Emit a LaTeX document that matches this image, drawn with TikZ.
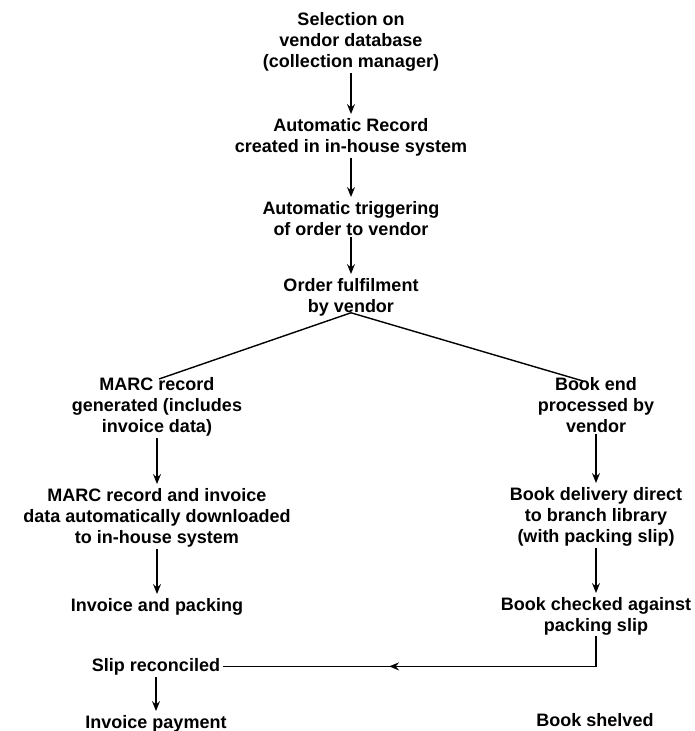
\documentclass[tikz,border=0pt]{standalone}
\usepackage{fontspec}
\setmainfont{Liberation Sans}
\usetikzlibrary{arrows.meta,decorations.markings}

\begin{document}
\begin{tikzpicture}[x=1pt,y=-1pt,
  stage/.style={anchor=north,inner sep=0pt,outer sep=0pt,align=center,
    font=\fontsize{18}{21}\selectfont\bfseries},
  flow/.style={line width=1.4pt,-{Stealth[length=10pt,width=8pt,inset=3.5pt]},
    shorten <=2pt,shorten >=4pt},
  fork/.style={line width=1.4pt},
  loopback/.style={line width=1.4pt,shorten <=1pt,shorten >=3pt,
    decoration={markings,mark=at position 0.585 with
      {\arrow{Stealth[length=10pt,width=8pt,inset=3.5pt]}}},
    postaction=decorate}]
\useasboundingbox (0,0) rectangle (695,731);

% central trunk
\node[stage] (sel)  at (351,12)  {Selection on\\vendor database\\(collection manager)};
\node[stage] (rec)  at (351,118) {Automatic Record\\created in in-house system};
\node[stage] (trig) at (351,201) {Automatic triggering\\of order to vendor};
\node[stage] (ful)  at (351,278) {Order fulfilment\\by vendor};

% left branch: records and invoices
\node[stage] (marc)  at (157,377) {MARC record\\generated (includes\\invoice data)};
\node[stage] (down)  at (157,488) {MARC record and invoice\\data automatically downloaded\\to in-house system};
\node[stage] (inv)   at (157,598) {Invoice and packing};
\node[stage] (slip)  at (156,658) {Slip reconciled};
\node[stage] (pay)   at (156,715) {Invoice payment};

% right branch: the physical book
\node[stage] (bend)  at (596,377) {Book end\\processed by\\vendor};
\node[stage] (deliv) at (596,487) {Book delivery direct\\to branch library\\(with packing slip)};
\node[stage] (check) at (596,597) {Book checked against\\packing slip};
\node[stage] (shelf) at (595,713) {Book shelved};

% connectors
\draw[flow] (sel.south) -- (rec.north);
\draw[flow] (rec.south) -- (trig.north);
\draw[flow] (trig.south) -- (ful.north);

\draw[fork] ([yshift=3pt]ful.south) -- ([xshift=2pt,yshift=-2pt]marc.north);
\draw[fork] ([yshift=3pt]ful.south) -- ([xshift=-13pt,yshift=-4pt]bend.north);

\draw[flow] (marc.south) -- (down.north);
\draw[flow] (down.south) -- (inv.north);
\draw[flow] (slip.south) -- (pay.north);

\draw[flow] (bend.south) -- (deliv.north);
\draw[flow] (deliv.south) -- (check.north);

\draw[loopback] (check.south) |- (slip.east);
\end{tikzpicture}
\end{document}
